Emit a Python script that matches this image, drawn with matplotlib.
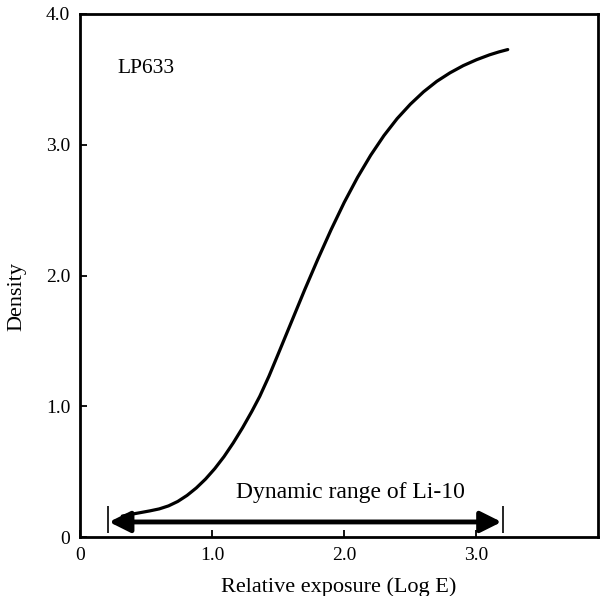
import matplotlib
matplotlib.use("Agg")
import matplotlib.pyplot as plt

# Data (characteristic curve of LP633)
exposure = [0.32, 0.40, 0.46, 0.53, 0.60, 0.67, 0.74, 0.81, 0.88, 0.95, 1.02, 1.09,
            1.16, 1.23, 1.30, 1.36, 1.43, 1.50, 1.60, 1.70, 1.80, 1.90, 2.00, 2.10,
            2.20, 2.30, 2.40, 2.50, 2.60, 2.70, 2.80, 2.90, 3.00, 3.10, 3.17, 3.237]
density = [0.16, 0.176, 0.187, 0.20, 0.215, 0.238, 0.272, 0.318, 0.375, 0.443, 0.523, 0.615,
           0.72, 0.835, 0.96, 1.075, 1.23, 1.40, 1.645, 1.89, 2.125, 2.35, 2.56, 2.75,
           2.92, 3.07, 3.20, 3.31, 3.405, 3.485, 3.55, 3.605, 3.65, 3.688, 3.71, 3.728]
dyn_range = [0.21, 3.20]
dyn_level = 0.115
xticks = [0, 1.0, 2.0, 3.0]
xtick_labels = ["0", "1.0", "2.0", "3.0"]
yticks = [0, 1.0, 2.0, 3.0, 4.0]
ytick_labels = ["0", "1.0", "2.0", "3.0", "4.0"]

plt.rcParams['font.family'] = ['Liberation Serif', 'DejaVu Serif']

fig = plt.figure(figsize=(6.05, 5.96), dpi=100)
ax = fig.add_axes([80/605, 1 - 537/596, 518/605, 523/596])

ax.plot(exposure, density, color='black', lw=2.3, solid_capstyle='round',
        solid_joinstyle='round')

ax.annotate('', xy=(dyn_range[0] + 0.01, dyn_level), xytext=(dyn_range[1] - 0.01, dyn_level),
            arrowprops=dict(arrowstyle='<|-|>,head_length=0.7,head_width=0.35',
                            lw=3.5, color='black', mutation_scale=18,
                            shrinkA=0, shrinkB=0))
ax.vlines(dyn_range, 0.03, 0.24, color='black', lw=1.2)
ax.text(2.05, 0.30, "Dynamic range of Li-10", ha='center', va='baseline', fontsize=17)
ax.text(0.28, 3.58, "LP633", ha='left', va='center', fontsize=15.5)

ax.set_xlim(0, 3.92)
ax.set_ylim(0, 4.0)
ax.set_xticks(xticks)
ax.set_xticklabels(xtick_labels)
ax.set_yticks(yticks)
ax.set_yticklabels(ytick_labels)
ax.tick_params(direction='in', length=5, width=1.3, labelsize=14, pad=7)
for sp in ax.spines.values():
    sp.set_linewidth(2.0)

ax.set_xlabel("Relative exposure (Log E)", fontsize=16, labelpad=10)
ax.set_ylabel("Density", fontsize=16)
ax.yaxis.set_label_coords(-0.104, 0.459)

fig.savefig("out.png", dpi=100)
